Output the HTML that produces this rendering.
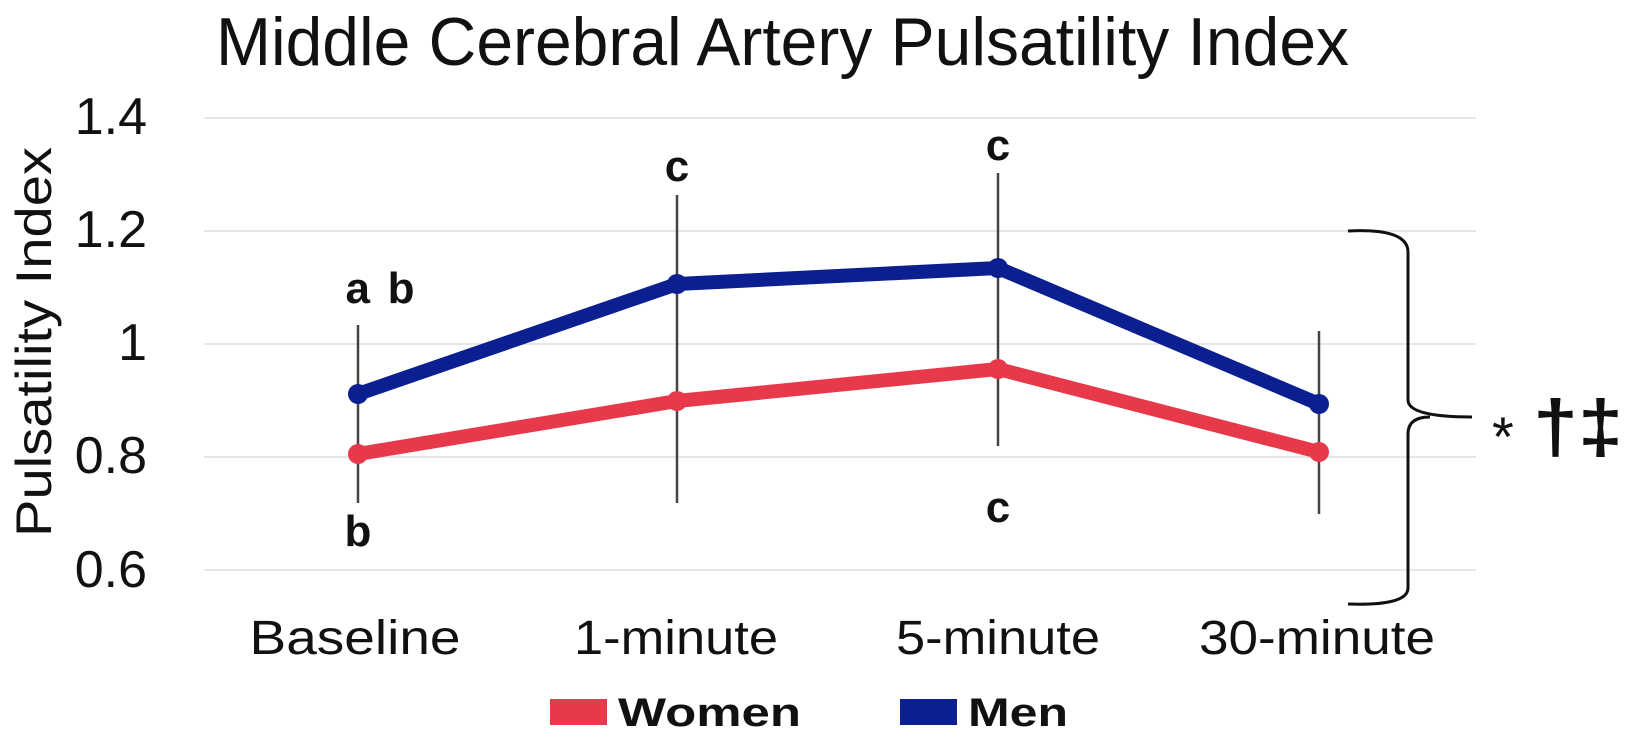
<!DOCTYPE html>
<html><head><meta charset="utf-8"><style>
html,body{margin:0;padding:0;background:#fff;}
svg{display:block;font-family:"Liberation Sans",Arial,sans-serif;}
</style></head><body>
<svg width="1642" height="753" viewBox="0 0 1642 753" xmlns="http://www.w3.org/2000/svg">
<text x="216" y="65" font-size="68" fill="#111" textLength="1133" lengthAdjust="spacingAndGlyphs">Middle Cerebral Artery Pulsatility Index</text>
<g stroke="#e6e6e6" stroke-width="2">
<line x1="204" y1="118" x2="1476" y2="118"/>
<line x1="204" y1="231" x2="1476" y2="231"/>
<line x1="204" y1="344" x2="1476" y2="344"/>
<line x1="204" y1="457" x2="1476" y2="457"/>
<line x1="204" y1="570" x2="1476" y2="570"/>
</g>
<g font-size="52" text-anchor="end" fill="#111">
<text x="147" y="134">1.4</text>
<text x="147" y="247">1.2</text>
<text x="147" y="360">1</text>
<text x="147" y="473">0.8</text>
<text x="147" y="587">0.6</text>
</g>
<text transform="translate(51,342) rotate(-90)" font-size="50" text-anchor="middle" fill="#111" textLength="390" lengthAdjust="spacingAndGlyphs">Pulsatility Index</text>
<g font-size="48" text-anchor="middle" fill="#111">
<text x="355" y="654" textLength="211" lengthAdjust="spacingAndGlyphs">Baseline</text>
<text x="676" y="654" textLength="204" lengthAdjust="spacingAndGlyphs">1-minute</text>
<text x="998" y="654" textLength="204" lengthAdjust="spacingAndGlyphs">5-minute</text>
<text x="1317" y="654" textLength="236" lengthAdjust="spacingAndGlyphs">30-minute</text>
</g>
<g stroke="#444" stroke-width="2.5">
<line x1="358" y1="325" x2="358" y2="503"/>
<line x1="677" y1="195" x2="677" y2="503"/>
<line x1="998" y1="173" x2="998" y2="446"/>
<line x1="1319" y1="331" x2="1319" y2="514"/>
</g>
<polyline points="358,454 677,401 998,369 1319,452" fill="none" stroke="#e8394a" stroke-width="14" stroke-linejoin="round"/>
<polyline points="358,394 677,284 998,268 1319,404" fill="none" stroke="#0b1f90" stroke-width="14" stroke-linejoin="round"/>
<g fill="#e8394a"><circle cx="358" cy="454" r="10"/><circle cx="677" cy="401" r="10"/><circle cx="998" cy="369" r="10"/><circle cx="1319" cy="452" r="10"/></g>
<g fill="#0b1f90"><circle cx="358" cy="394" r="10"/><circle cx="677" cy="284" r="10"/><circle cx="998" cy="268" r="10"/><circle cx="1319" cy="404" r="10"/></g>
<g font-size="44" font-weight="bold" text-anchor="middle" fill="#111">
<text x="380" y="303" textLength="69" lengthAdjust="spacing">a b</text>
<text x="358" y="546">b</text>
<text x="677" y="181">c</text>
<text x="998" y="160">c</text>
<text x="998" y="522">c</text>
</g>
<path d="M1348,231 Q1408,228 1408,252 L1408,400 Q1408,417 1472,417 M1408,434 Q1408,417 1430,417 M1408,434 L1408,588 Q1408,606 1348,604" fill="none" stroke="#111" stroke-width="3"/>
<text x="1492" y="456" font-size="56" fill="#111">*</text>
<text x="1533" y="452" font-size="74" font-weight="bold" fill="#111" textLength="90" lengthAdjust="spacingAndGlyphs">†‡</text>
<rect x="550" y="699" width="57" height="26" fill="#e8394a"/>
<text x="618" y="726" font-size="40" font-weight="bold" fill="#111" textLength="183" lengthAdjust="spacingAndGlyphs">Women</text>
<rect x="900" y="699" width="57" height="26" fill="#0b1f90"/>
<text x="968" y="726" font-size="40" font-weight="bold" fill="#111" textLength="100" lengthAdjust="spacingAndGlyphs">Men</text>
</svg>
</body></html>
